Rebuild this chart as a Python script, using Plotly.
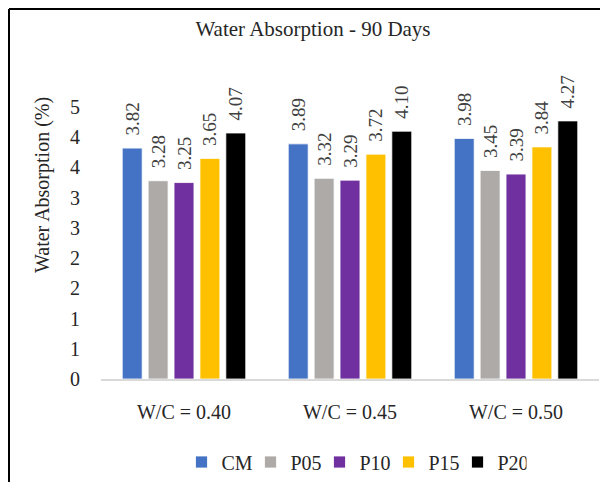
import plotly.graph_objects as go

categories = ["W/C = 0.40", "W/C = 0.45", "W/C = 0.50"]
series_names = ["CM", "P05", "P10", "P15", "P20"]
cm = [3.82, 3.89, 3.98]
p05 = [3.28, 3.32, 3.45]
p10 = [3.25, 3.29, 3.39]
p15 = [3.65, 3.72, 3.84]
p20 = [4.07, 4.10, 4.27]
series_values = [cm, p05, p10, p15, p20]
colors = ["#4472C4", "#ADAAA8", "#7030A0", "#FFC000", "#000000"]
ytick_vals = [0, 0.5, 1, 1.5, 2, 2.5, 3, 3.5, 4, 4.5]
ytick_text = ["0", "1", "1", "2", "2", "3", "3", "4", "4", "5"]

W, H = 608, 482
OFF = 8  # page body margin offset of the figure div
# target plot area in page pixels
PL, PR, PT, PB = 101, 599, 107, 379
ml, mt = PL - OFF, PT - OFF
mr = W - (PR - OFF)
mb = H - (PB - OFF)
font = "Liberation Serif, Times New Roman, serif"

fig = go.Figure()
for name, vals, col in zip(series_names, series_values, colors):
    fig.add_trace(go.Bar(
        x=categories, y=vals, name=name,
        marker=dict(color=col, line=dict(color="white", width=0.8)),
        text=["\u00a0\u00a0" + f"{v:.2f}" for v in vals], textposition="outside",
        textangle=-90, cliponaxis=False, constraintext="none",
        textfont=dict(family=font, size=19, color="#404040"),
    ))

pw = W - ml - mr
ph = H - mt - mb

def px_x(x):
    return (x - OFF - ml) / pw

def px_y(y):
    return (H - mb - (y - OFF)) / ph

def cx(x):
    return (x - OFF) / W

def cy(y):
    return 1 - (y - OFF) / H

fig.update_layout(
    width=W, height=H,
    margin=dict(l=ml, r=mr, t=mt, b=mb, autoexpand=False),
    paper_bgcolor="white", plot_bgcolor="white",
    barmode="group", bargap=0.22, bargroupgap=0.23,
    font=dict(family=font, color="#262626"),
    title=dict(text="Water Absorption - 90 Days", x=cx(313), xref="container",
               xanchor="center", y=cy(29), yref="container", yanchor="middle",
               font=dict(family=font, size=21, color="#262626")),
    legend=dict(orientation="h", x=cx(354), xref="container", xanchor="center",
                y=cy(462), yref="container", yanchor="middle",
                font=dict(family=font, size=20, color="#262626"),
                itemwidth=30, entrywidth=24, traceorder="normal"),
    xaxis=dict(showline=True, linecolor="#D9D9D9", linewidth=1.5, showgrid=False,
               ticks="", tickfont=dict(family=font, size=20, color="#262626"),
               ticklabelstandoff=14, automargin=False),
    yaxis=dict(range=[0, 4.5], tickvals=ytick_vals, ticktext=ytick_text,
               showgrid=False, zeroline=False, showline=False, ticks="",
               tickfont=dict(family=font, size=20, color="#262626"),
               ticklabelstandoff=20, automargin=False),
    annotations=[dict(text="Water Absorption (%)", textangle=-90, showarrow=False,
                      xref="paper", yref="paper", x=px_x(42), y=px_y(185),
                      xanchor="center", yanchor="middle",
                      font=dict(family=font, size=20, color="#262626"))],
    shapes=[
        dict(type="line", xref="paper", yref="paper", x0=px_x(OFF + 1), x1=px_x(W + OFF),
             y0=px_y(OFF + 1), y1=px_y(OFF + 1), line=dict(color="black", width=2)),
        dict(type="line", xref="paper", yref="paper", x0=px_x(OFF + 1), x1=px_x(OFF + 1),
             y0=px_y(OFF + 1), y1=px_y(H + OFF), line=dict(color="black", width=2)),
    ],
)

fig.write_html("out.html")
